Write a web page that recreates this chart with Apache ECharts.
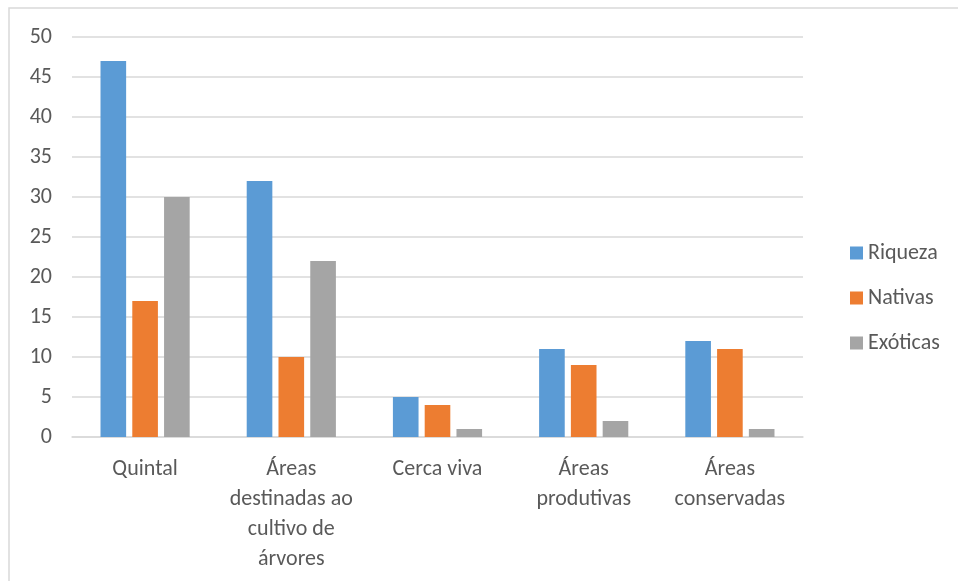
<!DOCTYPE html>
<html style="height: 100%">
<head>
<meta charset="utf-8">
<script src="https://cdn.jsdelivr.net/npm/echarts@6/dist/echarts.min.js"></script>
</head>
<body style="height: 100%; margin: 0; background: #fff">
<div id="container" style="width: 958px; height: 581px"></div>
<script type="text/javascript">
var categories = ['Quintal', 'Áreas destinadas ao cultivo de árvores', 'Cerca viva', 'Áreas produtivas', 'Áreas conservadas'];
// quebras de linha como no gráfico original
var axisLabels = ['Quintal', 'Áreas\ndestinadas ao\ncultivo de\nárvores', 'Cerca viva', 'Áreas\nprodutivas', 'Áreas\nconservadas'];
var riqueza = [47, 32, 5, 11, 12];
var nativas = [17, 10, 4, 9, 11];
var exoticas = [30, 22, 1, 2, 1];

var myChart = echarts.init(document.getElementById('container'));
var textColor = '#595959';
var fontFamily = 'Carlito, "Open Sans", sans-serif';

var option = {
    animation: false,
    textStyle: { fontFamily: fontFamily },
    graphic: [{
        type: 'rect',
        shape: { x: 9, y: 8, width: 960, height: 600 },
        style: { fill: 'none', stroke: '#d9d9d9', lineWidth: 1.5 },
        silent: true
    }],
    grid: { left: 72, right: 155, top: 37, bottom: 144 },
    legend: {
        orient: 'vertical',
        left: 845,
        top: 237,
        itemWidth: 13,
        itemHeight: 13,
        itemGap: 23,
        icon: 'rect',
        textStyle: { color: textColor, fontSize: 22, fontFamily: fontFamily },
        data: ['Riqueza', 'Nativas', 'Exóticas']
    },
    xAxis: {
        type: 'category',
        data: categories,
        axisLine: { lineStyle: { color: '#d9d9d9', width: 1.5 } },
        axisTick: { show: false },
        axisLabel: {
            color: textColor,
            fontSize: 22,
            lineHeight: 30,
            margin: 17,
            interval: 0,
            formatter: function (v, i) { return axisLabels[i]; }
        }
    },
    yAxis: {
        type: 'value',
        min: 0,
        max: 50,
        interval: 5,
        axisLine: { show: false },
        axisTick: { show: false },
        splitLine: { lineStyle: { color: '#d9d9d9', width: 1.5 } },
        axisLabel: { color: textColor, fontSize: 22, margin: 20 }
    },
    series: [
        { name: 'Riqueza', type: 'bar', data: riqueza, itemStyle: { color: '#5b9bd5' }, barGap: '24%', barCategoryGap: '39%' },
        { name: 'Nativas', type: 'bar', data: nativas, itemStyle: { color: '#ed7d31' } },
        { name: 'Exóticas', type: 'bar', data: exoticas, itemStyle: { color: '#a5a5a5' } }
    ]
};
myChart.setOption(option);
</script>
</body>
</html>
